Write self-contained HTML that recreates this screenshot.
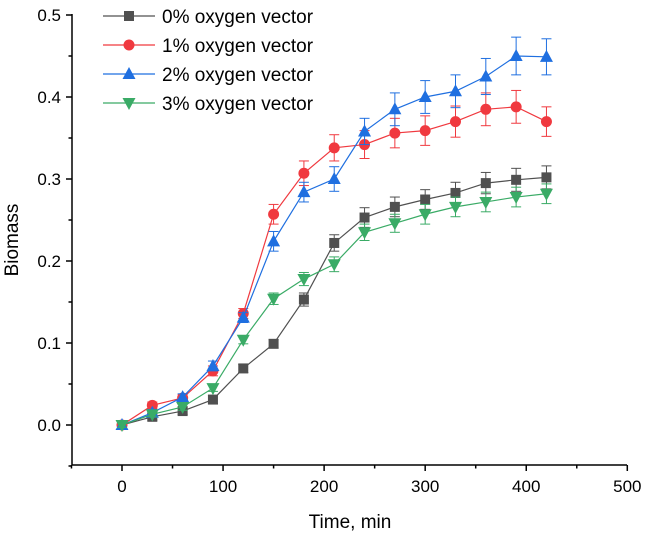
<!DOCTYPE html>
<html><head><meta charset="utf-8"><style>
html,body{margin:0;padding:0;background:#fff;}
svg{display:block;font-family:"Liberation Sans",Arial,sans-serif;}
</style></head><body>
<svg id="chart" width="646" height="538"></svg>
<script>
const times = [0,30,60,90,120,150,180,210,240,270,300,330,360,390,420];
const s0 = [0,.010,.017,.031,.069,.099,.153,.222,.253,.266,.275,.283,.295,.299,.302];
const s1 = [0,.024,.033,.066,.136,.257,.307,.338,.342,.356,.359,.370,.385,.388,.370];
const s2 = [0,.015,.034,.072,.131,.224,.284,.300,.358,.385,.400,.407,.425,.450,.449];
const s3 = [0,.013,.022,.045,.104,.154,.178,.196,.235,.246,.257,.266,.272,.278,.282];
const e0 = [.003,.004,.004,.005,.005,.005,.008,.010,.012,.012,.012,.013,.013,.014,.014];
const e1 = [.003,.004,.004,.006,.006,.012,.015,.016,.017,.018,.018,.019,.020,.020,.018];
const e2 = [.003,.004,.004,.006,.006,.012,.012,.015,.016,.020,.020,.020,.022,.023,.022];
const e3 = [.003,.003,.004,.004,.005,.007,.008,.009,.010,.011,.012,.012,.012,.012,.012];
const seriesNames = ["0% oxygen vector","1% oxygen vector","2% oxygen vector","3% oxygen vector"];
const xTicks = [0,100,200,300,400,500];
const yTicks = [0.0,0.1,0.2,0.3,0.4,0.5];

const NS="http://www.w3.org/2000/svg";
const svg=document.getElementById('chart');
const X=v=>122+(v)*1.0106;
const Y=v=>425-v*820;
function mk(tag,attrs,parent){const e=document.createElementNS(NS,tag);for(const k in attrs)e.setAttribute(k,attrs[k]);(parent||svg).appendChild(e);return e;}

let ax=mk('line',{x1:72,y1:465,x2:627,y2:465,stroke:'#000','stroke-width':1.5});


let ay=mk('line',{x1:72,y1:465,x2:72,y2:14,stroke:'#000','stroke-width':1.5});


for(let v=-50;v<=500;v+=50){
  const major=v%100===0;
  mk('line',{x1:X(v),y1:465,x2:X(v),y2:465+(major?6:3.5),stroke:'#000','stroke-width':1.5});
}
xTicks.forEach(v=>{
  const t=mk('text',{x:X(v),y:492,'text-anchor':'middle','font-size':17});
  t.textContent=v;
  
  
});
for(let i=-1;i<=10;i++){
  const v=i*0.05, major=i%2===0;
  mk('line',{x1:72,y1:Y(v),x2:72-(major?6:3.5),y2:Y(v),stroke:'#000','stroke-width':1.5});
}
yTicks.forEach(v=>{
  const t=mk('text',{x:61,y:Y(v)+6,'text-anchor':'end','font-size':17});
  t.textContent=v.toFixed(1);
  
  
});
let xt=mk('text',{x:350,y:528,'text-anchor':'middle','font-size':19});
xt.textContent='Time, min';


let yt=mk('text',{x:0,y:0,'text-anchor':'middle','font-size':19,transform:'translate(18,240) rotate(-90)'});
yt.textContent='Biomass';



const colors=['#505050','#f0393f','#1f6fe0','#3aab66'];
const shapes=['square','circle','up','down'];
const data=[s0,s1,s2,s3], errs=[e0,e1,e2,e3];
function marker(shape,x,y,c,g){
  let m;
  if(shape==='square') m=mk('rect',{x:x-5,y:y-5,width:10,height:10,fill:c},g);
  else if(shape==='circle') m=mk('circle',{cx:x,cy:y,r:5.5,fill:c},g);
  else if(shape==='up') m=mk('polygon',{points:`${x},${y-7} ${x+6.5},${y+5} ${x-6.5},${y+5}`,fill:c},g);
  else m=mk('polygon',{points:`${x},${y+7} ${x+6.5},${y-5} ${x-6.5},${y-5}`,fill:c},g);
  return m;
}
data.forEach((s,k)=>{
  const g=mk('g',{});
  
  
  const c=colors[k];
  s.forEach((v,i)=>{
    const x=X(times[i]),y1=Y(v+errs[k][i]),y2=Y(v-errs[k][i]);
    mk('line',{x1:x,y1:y1,x2:x,y2:y2,stroke:c,'stroke-width':1},g);
    mk('line',{x1:x-5,y1:y1,x2:x+5,y2:y1,stroke:c,'stroke-width':1},g);
    mk('line',{x1:x-5,y1:y2,x2:x+5,y2:y2,stroke:c,'stroke-width':1},g);
  });
  mk('polyline',{points:s.map((v,i)=>X(times[i])+','+Y(v)).join(' '),fill:'none',stroke:c,'stroke-width':1.2},g);
  s.forEach((v,i)=>{
    const m=marker(shapes[k],X(times[i]),Y(v),c,g);
    
    
  });
});
const lg=mk('g',{});


seriesNames.forEach((n,k)=>{
  const y=16+k*29;
  const e=mk('g',{},lg);
  
  
  mk('line',{x1:103,y1:y,x2:155,y2:y,stroke:colors[k],'stroke-width':1.2},e);
  marker(shapes[k],129,y,colors[k],e);
  const t=mk('text',{x:162,y:y+7,'font-size':19},e);
  t.textContent=n;
});
</script>
</body></html>
